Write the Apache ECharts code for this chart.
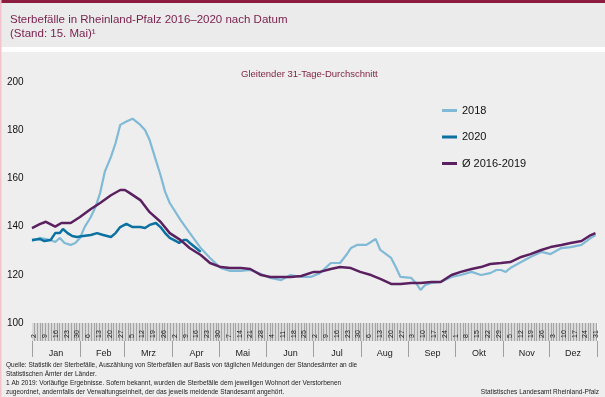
<!DOCTYPE html>
<html>
<head>
<meta charset="utf-8">
<script src="https://cdn.jsdelivr.net/npm/echarts@6/dist/echarts.min.js"></script>
<style>
    html, body { margin: 0; padding: 0; background: #eeeeee; }
    #main { width: 605px; height: 397px; }
</style>
</head>
<body>
<div id="main"></div>
<script>
// Tag im Jahr / gleitender 31-Tage-Durchschnitt
var days2018 = [1, 6, 13, 16, 19, 22, 26, 29, 32, 35, 39, 42, 45, 48, 52, 55, 58, 62, 66, 71, 74, 77, 81, 84, 87, 90, 97, 103, 110, 116, 123, 129, 136, 142, 149, 155, 162, 168, 175, 181, 187, 194, 200, 204, 207, 211, 217, 220, 223, 226, 233, 236, 239, 246, 249, 252, 255, 259, 265, 272, 278, 285, 291, 297, 301, 304, 307, 310, 317, 323, 330, 336, 343, 349, 356, 362, 365];
var vals2018 = [134, 135.3, 134.4, 133.6, 135.3, 133.2, 132.4, 133.2, 135.3, 139.8, 144, 148.1, 153.9, 162.7, 168.9, 174.7, 182.2, 183.6, 184.8, 182.2, 180.1, 175.9, 167.6, 161.4, 154.4, 149.8, 142.7, 137.3, 131.1, 127, 122.8, 121.6, 121.6, 122, 120.3, 118.7, 117.8, 119.9, 119.1, 119.1, 120.7, 124.9, 124.9, 128.2, 131.1, 132.4, 132.4, 133.6, 134.9, 130.3, 127, 123.2, 119.1, 118.7, 116.6, 113.7, 115.8, 116.6, 117, 119.1, 119.9, 121.2, 119.9, 120.7, 122, 122, 121.2, 122.8, 125.3, 127.4, 129.5, 128.6, 131.1, 131.5, 132.4, 135.3, 136.5];

var days2020 = [1, 6, 9, 13, 16, 19, 21, 24, 27, 30, 34, 39, 43, 47, 52, 55, 58, 62, 66, 71, 74, 77, 81, 84, 87, 90, 94, 96, 99, 101, 103, 107, 110];
var vals2020 = [134.4, 134.9, 134, 134.4, 137.3, 137.3, 139, 137.3, 136.1, 135.7, 136.1, 136.5, 137.3, 136.5, 135.7, 137.3, 139.8, 141.1, 139.8, 139.8, 139.4, 140.7, 141.5, 139.8, 137.3, 135.3, 134, 133.2, 134.4, 134.4, 133.2, 131.1, 129.5];

var daysAvg = [1, 6, 10, 16, 20, 26, 32, 39, 45, 52, 58, 61, 64, 71, 77, 84, 90, 97, 103, 110, 116, 123, 129, 136, 142, 149, 155, 162, 168, 175, 183, 187, 194, 200, 207, 213, 220, 226, 233, 239, 246, 252, 259, 265, 272, 278, 285, 291, 297, 304, 310, 317, 323, 330, 336, 343, 349, 356, 362, 365];
var valsAvg = [139.4, 141, 142, 140, 141.5, 141.5, 144, 147.3, 149.8, 153, 155.2, 155.2, 154, 151, 146, 142, 137.3, 134.4, 131, 128.2, 124.9, 123.2, 122.8, 122.8, 122.4, 119.9, 119.1, 119.1, 119.1, 119.5, 121.2, 121.2, 122.4, 123.2, 122.8, 121.2, 119.9, 118.3, 116.2, 116.2, 116.6, 116.6, 117, 117, 119.9, 121.2, 122.4, 123.2, 124.5, 124.9, 125.3, 127.4, 128.6, 130.3, 131.5, 132.4, 133.2, 134, 136.5, 137.3];

var months = ['Jan', 'Feb', 'Mrz', 'Apr', 'Mai', 'Jun', 'Jul', 'Aug', 'Sep', 'Okt', 'Nov', 'Dez'];
var monthLen = [31, 29, 31, 30, 31, 30, 31, 31, 30, 31, 30, 31];
var yTicks = [100, 200, 20]; // min, max, interval

// Tageskategorien fuer das Achsenband
var dayCats = [], dayMonth = [], dayOfMonth = [];
monthLen.forEach(function (n, m) {
    for (var d = 1; d <= n; d++) {
        dayCats.push(months[m] + ' ' + d);
        dayMonth.push(m);
        dayOfMonth.push(d);
    }
});

function zip(xs, ys) {
    return xs.map(function (x, i) { return [x, ys[i]]; });
}

var font = 'Liberation Sans, Arial, sans-serif';
var chart = echarts.init(document.getElementById('main'));

var option = {
    animation: false,
    backgroundColor: '#eeeeee',
    textStyle: { fontFamily: font },
    graphic: [
        { type: 'rect', z: -10, shape: { x: 0, y: 0, width: 605, height: 47 }, style: { fill: '#ebebeb' } },
        { type: 'rect', z: -10, shape: { x: 0, y: 0, width: 605, height: 3 }, style: { fill: '#8c1d40' } },
        { type: 'rect', z: -10, shape: { x: 0, y: 47, width: 605, height: 5 }, style: { fill: '#ffffff' } },
        { type: 'rect', z: -10, shape: { x: 0, y: 0, width: 1.5, height: 397 }, style: { fill: '#f3c3cd' } },
        { type: 'text', left: 6, top: 362, style: { text: 'Quelle: Statistik der Sterbefälle, Auszählung von Sterbefällen auf Basis von täglichen Meldungen der Standesämter an die', font: '6.5px ' + font, fill: '#222' } },
        { type: 'text', left: 6, top: 371, style: { text: 'Statistischen Ämter der Länder.', font: '6.5px ' + font, fill: '#222' } },
        { type: 'text', left: 6, top: 380, style: { text: '1 Ab 2019: Vorläufige Ergebnisse. Sofern bekannt, wurden die Sterbefälle dem jeweiligen Wohnort der Verstorbenen', font: '6.5px ' + font, fill: '#222' } },
        { type: 'text', left: 6, top: 389, style: { text: 'zugeordnet, andernfalls der Verwaltungseinheit, der das jeweils meldende Standesamt angehört.', font: '6.5px ' + font, fill: '#222' } },
        { type: 'text', right: 6, top: 389, style: { text: 'Statistisches Landesamt Rheinland-Pfalz', font: '6.5px ' + font, fill: '#222' } }
    ],
    title: [
        { text: 'Sterbefälle in Rheinland-Pfalz 2016–2020 nach Datum', left: 5, top: 9, textStyle: { fontSize: 11.5, fontWeight: 'normal', color: '#7a2350', fontFamily: font } },
        { text: '(Stand: 15. Mai)¹', left: 5, top: 23, textStyle: { fontSize: 11.5, fontWeight: 'normal', color: '#7a2350', fontFamily: font } },
        { text: 'Gleitender 31-Tage-Durchschnitt', left: 236, top: 64, textStyle: { fontSize: 9.5, fontWeight: 'normal', color: '#7e1f40', fontFamily: font } }
    ],
    legend: {
        orient: 'vertical',
        left: 437,
        top: 100,
        icon: 'rect',
        itemWidth: 15,
        itemHeight: 3,
        itemGap: 15.5,
        textStyle: { fontSize: 11, color: '#111', fontFamily: font },
        data: ['2018', '2020', 'Ø 2016-2019']
    },
    grid: [
        { left: 32, right: 8, top: 82, height: 241 },
        { left: 32, right: 8, top: 323, height: 18, show: true, backgroundColor: '#a4a4a4', borderWidth: 0 }
    ],
    xAxis: [
        { type: 'value', gridIndex: 0, min: 1, max: 366, show: false },
        {
            type: 'category', gridIndex: 1, data: dayCats, boundaryGap: true,
            axisLine: { show: false },
            splitLine: { show: true, interval: 0, lineStyle: { color: '#ffffff', width: 0.6 } },
            axisTick: {
                show: true, length: 16, lineStyle: { color: '#a0a0a0' },
                interval: function (i) { return dayOfMonth[i] === 1; }
            },
            axisLabel: {
                margin: 8, fontSize: 9, color: '#222', fontFamily: font,
                interval: function (i) { return dayOfMonth[i] === 16; },
                formatter: function (v, i) { return months[dayMonth[i]]; }
            }
        },
        {
            type: 'category', gridIndex: 1, data: dayCats, position: 'bottom',
            axisLine: { show: false }, axisTick: { show: false }, splitLine: { show: false },
            axisLabel: {
                inside: true, rotate: 90, margin: 3, fontSize: 7, color: '#222',
                interval: function (i) { return i % 7 === 1; },
                formatter: function (v, i) { return String(dayOfMonth[i]); }
            }
        }
    ],
    yAxis: [
        {
            type: 'value', gridIndex: 0, min: yTicks[0], max: yTicks[1], interval: yTicks[2],
            axisLine: { show: false }, axisTick: { show: false }, splitLine: { show: false },
            axisLabel: { align: 'left', margin: 25, fontSize: 10, color: '#111', fontFamily: font }
        },
        { type: 'value', gridIndex: 1, show: false }
    ],
    series: [
        {
            name: '2018', type: 'line', xAxisIndex: 0, yAxisIndex: 0, symbol: 'none',
            data: zip(days2018, vals2018),
            lineStyle: { color: '#80bad6', width: 2.2 }, itemStyle: { color: '#80bad6' }
        },
        {
            name: '2020', type: 'line', xAxisIndex: 0, yAxisIndex: 0, symbol: 'none',
            data: zip(days2020, vals2020),
            lineStyle: { color: '#0a71a1', width: 2.5 }, itemStyle: { color: '#0a71a1' }
        },
        {
            name: 'Ø 2016-2019', type: 'line', xAxisIndex: 0, yAxisIndex: 0, symbol: 'none',
            data: zip(daysAvg, valsAvg),
            lineStyle: { color: '#5b2060', width: 2.5 }, itemStyle: { color: '#5b2060' }
        },
        { type: 'line', xAxisIndex: 1, yAxisIndex: 1, data: [], silent: true }
    ]
};
chart.setOption(option);
</script>
</body>
</html>
